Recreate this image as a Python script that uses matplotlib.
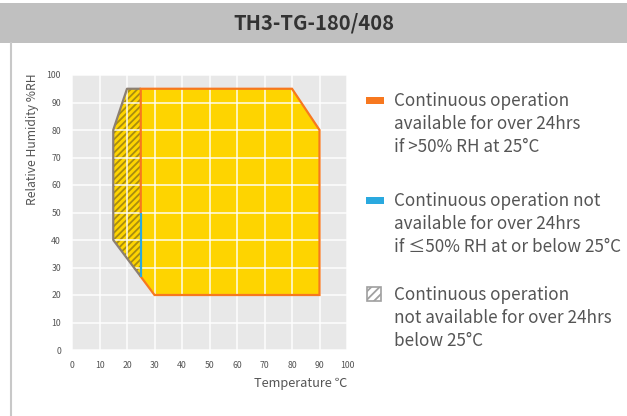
import matplotlib.pyplot as plt
from matplotlib.patches import Polygon, Rectangle

plt.rcParams['font.family'] = ['Noto Sans CJK KR', 'DejaVu Sans']
plt.rcParams['hatch.linewidth'] = 1.3

# 운전 범위 데이터 (온도 ℃, 습도 %RH)
main_temp = [25, 80, 90, 90, 30, 25]
main_rh = [95, 95, 80, 20, 20, 26.7]
hatch_temp = [20, 25, 25, 15, 15]
hatch_rh = [95, 95, 26.7, 40, 80]
orange_temp = [25, 25, 80, 90, 90, 30, 25]
orange_rh = [50, 95, 95, 80, 20, 20, 26.7]
blue_temp = [25, 25]
blue_rh = [26.7, 50]
gray_temp = [25, 20, 15, 15, 25]
gray_rh = [95, 95, 80, 40, 26.7]

ticks = [0, 10, 20, 30, 40, 50, 60, 70, 80, 90, 100]
title = 'TH3-TG-180/408'
legend_items = [
    ('orange', 'Continuous operation\navailable for over 24hrs\nif >50% RH at 25°C'),
    ('blue', 'Continuous operation not\navailable for over 24hrs\nif ≤50% RH at or below 25°C'),
    ('hatch', 'Continuous operation\nnot available for over 24hrs\nbelow 25°C'),
]

YELLOW = '#fed400'
ORANGE = '#f7781f'
BLUE = '#2aa9df'
GRAYLINE = '#8c7f72'
TXT = '#555555'

fig = plt.figure(figsize=(6.27, 4.16), dpi=100)

# 제목 바
fig.patches.append(Rectangle((0, 1 - 43 / 416), 1, 40 / 416, transform=fig.transFigure,
                             facecolor='#c0c0c0', edgecolor='none'))
fig.text(0.5, 1 - 23 / 416, title, ha='center', va='center', fontsize=14.5,
         fontweight='bold', color='#333333')
# 왼쪽 테두리
fig.lines.append(plt.Line2D([10.5 / 627, 10.5 / 627], [0, 1 - 43 / 416],
                            transform=fig.transFigure, color='#c8c8c8', lw=1.5))

ax = fig.add_axes([72 / 627, 66 / 416, 275 / 627, 275 / 416])
ax.set_facecolor('#e8e8e8')
ax.set_xlim(0, 100)
ax.set_ylim(0, 100)
ax.set_xticks(ticks)
ax.set_yticks(ticks)
for s in ax.spines.values():
    s.set_visible(False)
ax.tick_params(length=0, labelsize=6.3, labelcolor=TXT, pad=8)
ax.tick_params(axis='y', pad=8)

ax.add_patch(Polygon(list(zip(main_temp, main_rh)), closed=True, facecolor=YELLOW,
                     edgecolor='none', zorder=1))
ax.add_patch(Polygon(list(zip(hatch_temp, hatch_rh)), closed=True, facecolor=YELLOW,
                     edgecolor='#a88c10', linewidth=0, hatch='/////', zorder=1))

ax.grid(True, color='white', linewidth=1.2, alpha=0.85, zorder=2)
ax.set_axisbelow(False)

ax.plot(gray_temp, gray_rh, color=GRAYLINE, lw=1.6, zorder=3, solid_capstyle='butt')
ax.plot(orange_temp, orange_rh, color=ORANGE, lw=1.6, zorder=4, solid_joinstyle='miter')
ax.plot(blue_temp, blue_rh, color=BLUE, lw=1.6, zorder=4, solid_capstyle='butt')

ax.set_ylabel('Relative Humidity %RH', fontsize=8.7, color=TXT, loc='top')
ax.yaxis.set_label_coords(-0.12, 1.005)
ax.set_xlabel('Temperature ℃', fontsize=9.2, color=TXT)
ax.xaxis.set_label_coords(1.0, -0.1)
ax.xaxis.label.set_ha('right')

# 범례
y0 = [100, 200, 294]
for (kind, text), yy in zip(legend_items, y0):
    if kind == 'orange':
        fig.patches.append(Rectangle((366 / 627, 1 - (yy + 4) / 416), 18 / 627, 7 / 416,
                                     transform=fig.transFigure, facecolor=ORANGE, edgecolor='none'))
    elif kind == 'blue':
        fig.patches.append(Rectangle((366 / 627, 1 - (yy + 4) / 416), 18 / 627, 7 / 416,
                                     transform=fig.transFigure, facecolor=BLUE, edgecolor='none'))
    else:
        fig.patches.append(Rectangle((367 / 627, 1 - (yy + 7) / 416), 14 / 627, 14 / 416,
                                     transform=fig.transFigure, facecolor='white',
                                     edgecolor='#a0a0a0', lw=1.2, hatch='////'))
    fig.text(394 / 627, 1 - (yy - 8) / 416, text, ha='left', va='top', fontsize=12.3,
             color=TXT, linespacing=1.37)

fig.savefig('out.png', dpi=100)
